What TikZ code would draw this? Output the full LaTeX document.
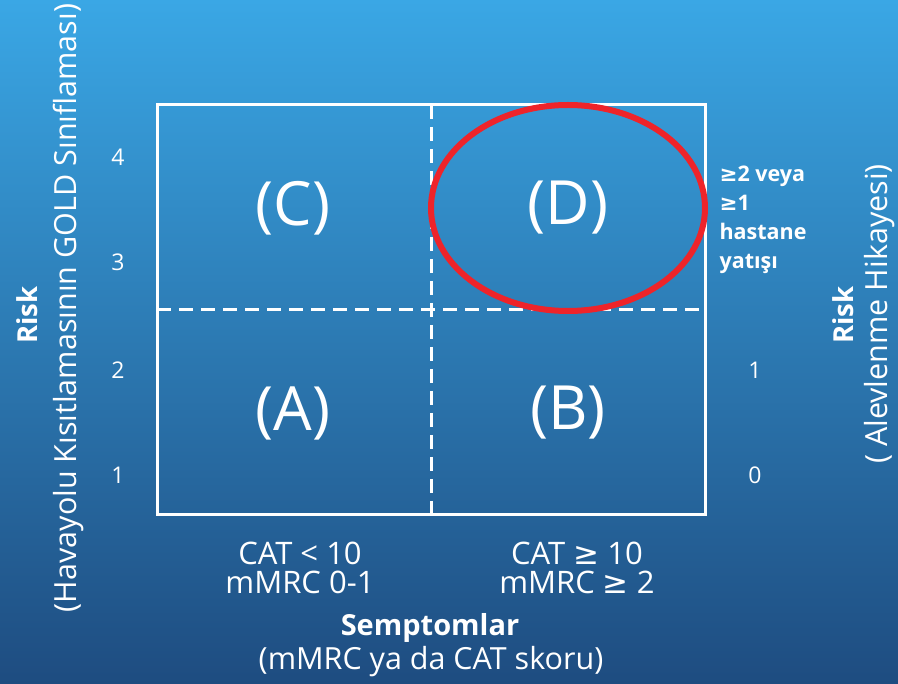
\documentclass[tikz,border=0pt]{standalone}
\usepackage{fontspec}
\setmainfont{Open Sans}
\newfontfamily\symfont{DejaVu Sans}
\usetikzlibrary{calc,positioning}
\definecolor{bgtop}{RGB}{58,167,229}
\definecolor{bgbottom}{RGB}{30,76,128}
\definecolor{ringred}{RGB}{238,36,42}
\newcommand{\gesym}{{\symfont\char"2265}}
\tikzset{
  grid frame/.style={white, line width=3pt},
  grid split/.style={white, line width=3pt, dash pattern=on 14pt off 8pt},
  quadrant/.style={text=white, font=\fontsize{61}{64}\selectfont},
  tick label/.style={text=white, font=\fontsize{23}{25}\selectfont},
  axis title/.style={text=white, font=\bfseries\fontsize{27.5}{30}\selectfont},
  axis note/.style={text=white, font=\fontsize{30.5}{33}\selectfont},
  class label/.style={text=white, align=center, font=\fontsize{31}{29}\selectfont},
  event label/.style={
    text=white,
    align=left,
    font=\bfseries\fontsize{21.5}{29}\selectfont
  }
}

\begin{document}
\begin{tikzpicture}[x=1pt, y=-1pt]

  % Background with vertical gradient.
  \useasboundingbox (0,0) rectangle (898,684);
  \shade[top color=bgtop, bottom color=bgbottom] (0,0) rectangle (898,684);

  % Corners and splits of the grid.
  \coordinate (gNW) at (157,105);
  \coordinate (gSE) at (705,515);
  \coordinate (gN) at (431,105);
  \coordinate (gS) at (431,515);
  \coordinate (gW) at (157,310);
  \coordinate (gE) at (705,310);

  \draw[grid frame] (gNW) rectangle (gSE);
  \draw[grid split] (gN) -- (gS);
  \draw[grid split] (gW) -- (gE);

  % The four groups.
  \node[quadrant] (qC) at (293,208) {(C)};
  \node[quadrant] (qD) at (568,208) {(D)};
  \node[quadrant] (qA) at (293,413) {(A)};
  \node[quadrant] (qB) at (568,413) {(B)};

  % Highlight of group D.
  \draw[ringred, line width=6pt] (qD.center) ellipse [x radius=137pt, y radius=103pt];

  % Left scale.
  \node[tick label] (l4) at (118,157) {4};
  \node[tick label] (l3) at (118,262) {3};
  \node[tick label] (l2) at (118,370) {2};
  \node[tick label] (l1) at (118,475) {1};

  % Right scale.
  \node[event label, anchor=north west] (r2) at (716,162)
    {\gesym2 veya\\ \gesym1\\ hastane\\ yatışı};
  \node[tick label] (r1) at (755,370) {1};
  \node[tick label] (r0) at (755,475) {0};

  % Vertical axis titles.
  \node[axis title, rotate=90] (riskL) at (27,315) {Risk};
  \node[axis note, rotate=90] (noteL) at (68,308)
    {(Havayolu Kısıtlamasının GOLD Sınıflaması)};
  \node[axis title, rotate=90] (riskR) at (843,315) {Risk};
  \node[axis note, rotate=90] (noteR) at (880,314)
    {( Alevlenme Hikayesi)};

  % Horizontal axis.
  \node[class label] (low) at (300,568) {CAT < 10\\ mMRC 0-1};
  \node[class label] (high) at (577,568) {CAT \gesym{} 10\\ mMRC \gesym{} 2};
  \node[axis title, font=\bfseries\fontsize{29}{32}\selectfont] (sym) at (430,628)
    {Semptomlar};
  \node[axis note] (symnote) at (431,662) {(mMRC ya da CAT skoru)};

\end{tikzpicture}
\end{document}
